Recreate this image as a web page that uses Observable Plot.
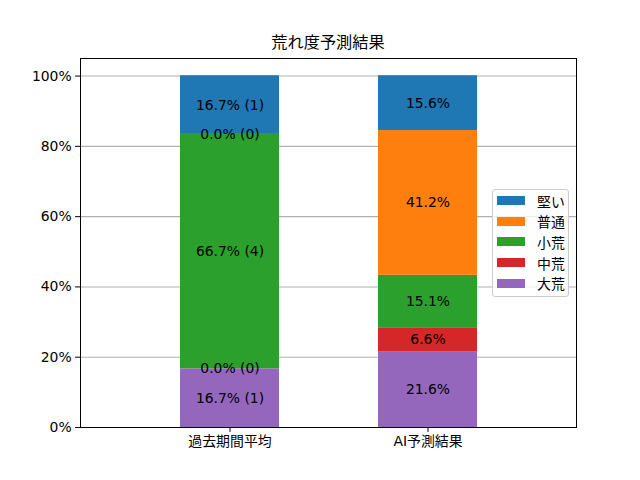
<!DOCTYPE html>
<html>
<head>
<meta charset="utf-8">
<script src="https://cdn.jsdelivr.net/npm/d3@7"></script>
<script src="https://cdn.jsdelivr.net/npm/@observablehq/plot@0.6"></script>
<style>
  html, body { margin: 0; padding: 0; background: #fff; }
  #wrap { position: relative; width: 640px; height: 480px; font-family: "DejaVu Sans", "Noto Sans CJK JP", sans-serif; }
  #title { height: 54px; box-sizing: border-box; padding-top: 33px; padding-left: 80px; width: 576px; text-align: center; font-size: 16.2px; line-height: 20px; color: #000; }
  #legend { position: absolute; left: 492px; top: 189px; width: 77px; height: 108px; box-sizing: border-box; border: 1px solid #cccccc; border-radius: 3px; background: rgba(255,255,255,0.8); }
  .item { position: absolute; left: 4px; height: 20px; display: flex; align-items: center; font-size: 13.9px; color: #000; }
  .sw { width: 28px; height: 9px; margin-right: 12px; }
</style>
</head>
<body>
<div id="wrap">
  <div id="title">荒れ度予測結果</div>
  <div id="chart"></div>
  <div id="legend"></div>
</div>
<script>
const categories = ["過去期間平均", "AI予測結果"];
const levels = ["大荒", "中荒", "小荒", "普通", "堅い"]; // bottom -> top
const colors = ["#9467bd", "#d62728", "#2ca02c", "#ff7f0e", "#1f77b4"];
const pastPct = [16.7, 0.0, 66.7, 0.0, 16.7];
const pastCount = [1, 0, 4, 0, 1];
const aiPct = [21.6, 6.6, 15.1, 41.2, 15.6];
const yTicks = [0, 20, 40, 60, 80, 100];

const rows = [];
levels.forEach((lv, i) => rows.push({cat: categories[0], level: lv, pct: pastPct[i], label: `${pastPct[i].toFixed(1)}% (${pastCount[i]})`}));
levels.forEach((lv, i) => rows.push({cat: categories[1], level: lv, pct: aiPct[i], label: `${aiPct[i].toFixed(1)}%`}));

const chart = Plot.plot({
  width: 640,
  height: 426,
  marginLeft: 80,
  marginRight: 64,
  marginTop: 4,
  marginBottom: 53,
  style: {fontFamily: '"DejaVu Sans", "Noto Sans CJK JP", sans-serif', fontSize: "13.9px", color: "#000", background: "#fff"},
  x: {domain: categories, paddingInner: 0.5, paddingOuter: 0.5, label: null},
  y: {domain: [0, 105], ticks: yTicks, label: null, tickFormat: d => d + "%"},
  color: {domain: levels, range: colors},
  marks: [
    Plot.gridY(yTicks, {stroke: "#b0b0b0", strokeOpacity: 1, strokeWidth: 1.1}),
    Plot.barY(rows, {x: "cat", y: "pct", fill: "level", order: levels}),
    Plot.text(rows, Plot.stackY({x: "cat", y: "pct", z: "level", order: levels, text: "label", fill: "#000", fontSize: 13.9})),
    Plot.axisY({ticks: yTicks, tickFormat: d => d + "%", tickSize: 4.9, tickPadding: 4, label: null, fontSize: 13.9}),
    Plot.axisX({tickSize: 4.9, tickPadding: 4, label: null, fontSize: 13.9}),
    Plot.frame({stroke: "#000", strokeWidth: 1})
  ]
});
document.getElementById("chart").appendChild(chart);

const legend = document.getElementById("legend");
const legendOrder = levels.slice().reverse();
const legendColors = colors.slice().reverse();
legendOrder.forEach((lv, i) => {
  const d = document.createElement("div");
  d.className = "item";
  d.style.top = (0.5 + i * 20.7) + "px";
  const s = document.createElement("div");
  s.className = "sw";
  s.style.background = legendColors[i];
  d.appendChild(s);
  d.appendChild(document.createTextNode(lv));
  legend.appendChild(d);
});
</script>
</body>
</html>
